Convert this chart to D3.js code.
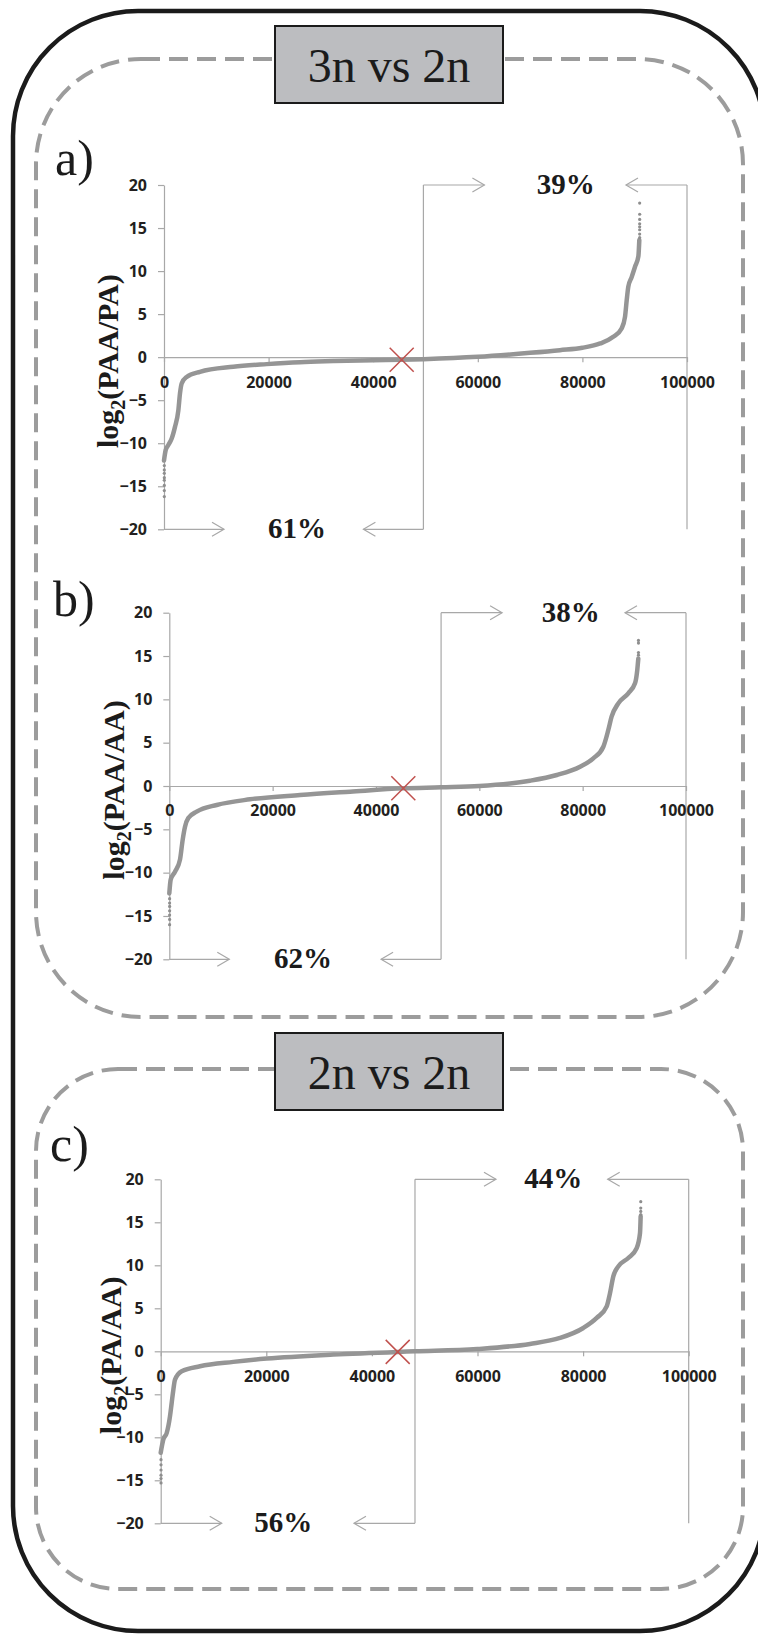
<!DOCTYPE html>
<html>
<head>
<meta charset="utf-8">
<script src="https://cdnjs.cloudflare.com/ajax/libs/d3/7.8.5/d3.min.js"></script>
<style>
body { margin: 0; background: #fff; }
svg { display: block; }
</style>
</head>
<body>
<svg id="chart"></svg>
<script>
const xTicks = [0, 20000, 40000, 60000, 80000, 100000]
const yTicks = [-20, -15, -10, -5, 0, 5, 10, 15, 20]

const groupTitles = ['3n vs 2n', '2n vs 2n']
const panelLetters = ['a)', 'b)', 'c)']
const yTitleRatios = ['(PAA/PA)', '(PAA/AA)', '(PA/AA)']

// percentage of genes above / below the split
const pctAbove = [39, 38, 44]
const pctBelow = [61, 62, 56]
const splitX = [49600, 52600, 48160]
const crossMarks = [[45450, -0.31], [45290, -0.27], [44890, -0.07]]

// sorted log2 ratios as [rank, value]
const curveA = [[0,-12.0],[320,-10.8],[830,-10.2],[1470,-9.46],[2100,-8.1],[2740,-6.2],[3060,-4.2],[3380,-3.06],[4330,-2.3],[6880,-1.7],[13250,-1.12],[19630,-0.81],[26000,-0.58],[32400,-0.46],[40000,-0.35],[45400,-0.3],[49600,-0.23],[60000,0.04],[70000,0.5],[75700,0.81],[80000,1.09],[83400,1.59],[85900,2.36],[87500,3.33],[88150,4.69],[88470,6.6],[88780,8.2],[89420,9.3],[90060,10.5],[90700,11.7],[90880,13.6]]
const curveB = [[0,-12.4],[270,-10.8],[1100,-9.9],[2070,-8.5],[2590,-6.2],[3040,-4.7],[3680,-3.7],[5300,-2.96],[9170,-2.19],[15620,-1.54],[25300,-1.04],[35000,-0.65],[45300,-0.27],[52600,-0.15],[60000,0],[69800,0.61],[75000,1.27],[79500,2.23],[82060,3.19],[84000,4.53],[84960,6.46],[85600,8.0],[86900,9.54],[88830,10.7],[90130,11.85],[90570,13.4],[90770,14.7]]
const curveC = [[0,-11.8],[500,-10.25],[1140,-9.5],[1760,-7.55],[2080,-6.0],[2400,-4.45],[2710,-3.29],[3980,-2.32],[7440,-1.74],[13750,-1.23],[20080,-0.85],[32690,-0.38],[44900,-0.07],[48160,0],[59960,0.27],[69940,0.86],[75630,1.55],[80040,2.71],[82580,3.88],[84470,5.23],[85100,6.78],[85720,8.71],[86670,9.87],[88560,10.85],[90150,12.0],[90780,13.75],[90900,15.7]]

// isolated extreme points
const dotsA = [[60,-12.6],[60,-13.1],[60,-13.5],[60,-14.0],[60,-14.3],[60,-14.9],[60,-15.5],[60,-16.2],[90950,13.9],[90950,14.3],[90950,14.8],[90950,15.15],[90950,15.5],[90950,16.0],[90950,16.6],[90950,17.9]]
const dotsB = [[60,-13.0],[60,-13.5],[60,-13.9],[60,-14.4],[60,-14.9],[60,-15.4],[60,-16.0],[90800,15.1],[90800,15.4],[90800,16.5],[90800,16.8]]
const dotsC = [[60,-12.6],[60,-13.2],[60,-13.8],[60,-14.4],[60,-14.8],[60,-15.3],[90920,15.9],[90920,16.26],[90920,16.65],[90920,17.4]]

const curves = [curveA, curveB, curveC]
const dots = [dotsA, dotsB, dotsC]

let svgWidth = 758
let svgHeight = 1636

const panels = [
    {left:164, right:687, top:185, bottom:529.3, titleOff:46, letterX:55, letterY:175, topArrow:61, botArrow:60, topTextX:76800, botTextX:25430},
    {left:169.3, right:686, top:612.7, bottom:959.3, titleOff:45, letterX:53, letterY:616, topArrow:61, botArrow:60, topTextX:77690, botTextX:25880},
    {left:160.7, right:688.7, top:1179.3, bottom:1523.3, titleOff:40, letterX:50, letterY:1161, topArrow:81, botArrow:61, topTextX:74360, botTextX:23220}
]

const svg = d3.select('#chart')
    .attr('width', svgWidth)
    .attr('height', svgHeight)

const grey = '#a8a8a8'

const drawFrames = () => {
    svg.append('rect')
        .attr('x', 13).attr('y', 11)
        .attr('width', 752).attr('height', 1620)
        .attr('rx', 125).attr('ry', 125)
        .attr('fill', 'none')
        .attr('stroke', '#1b1b1b')
        .attr('stroke-width', 4.5)

    const boxes = [
        {x:36, y:59, w:707, h:958, r:105, title:groupTitles[0], ty:26},
        {x:36, y:1069, w:707, h:520, r:82, title:groupTitles[1], ty:1033}
    ]
    boxes.forEach(b => {
        svg.append('rect')
            .attr('x', b.x).attr('y', b.y)
            .attr('width', b.w).attr('height', b.h)
            .attr('rx', b.r).attr('ry', b.r)
            .attr('fill', 'none')
            .attr('stroke', '#9c9c9c')
            .attr('stroke-width', 4)
            .attr('stroke-dasharray', '19 9')

        svg.append('rect')
            .attr('x', 275).attr('y', b.ty)
            .attr('width', 228).attr('height', 77)
            .attr('fill', '#bcbdc0')
            .attr('stroke', '#1b1b1b')
            .attr('stroke-width', 2)

        svg.append('text')
            .attr('x', 389).attr('y', b.ty + 56)
            .attr('text-anchor', 'middle')
            .attr('font-family', 'Liberation Serif, serif')
            .attr('font-size', 48)
            .attr('fill', '#1b1b1b')
            .text(b.title)
    })
}

const chevron = (g, tipX, y, dir) => {
    g.append('path')
        .attr('d', `M${tipX - dir * 12},${y - 7}L${tipX},${y}L${tipX - dir * 12},${y + 7}`)
        .attr('fill', 'none')
        .attr('stroke', grey)
        .attr('stroke-width', 1.2)
}

const drawPanel = (i) => {
    const p = panels[i]
    const g = svg.append('g')

    const xScale = d3.scaleLinear().domain([0, 100000]).range([p.left, p.right])
    const yScale = d3.scaleLinear().domain([-20, 20]).range([p.bottom, p.top])

    // brackets with arrows
    const xs = xScale(splitX[i])
    const xR = xScale(100000)
    const x0 = xScale(0)
    const yT = yScale(20)
    const yB = yScale(-20)
    const seg = (x1, y1, x2, y2) => g.append('line')
        .attr('x1', x1).attr('y1', y1).attr('x2', x2).attr('y2', y2)
        .attr('stroke', grey).attr('stroke-width', 1.2)

    seg(xs, yT, xs, yB)
    seg(xR, yT, xR, yB)
    seg(xs, yT, xs + p.topArrow, yT)
    chevron(g, xs + p.topArrow, yT, 1)
    seg(xR - p.topArrow, yT, xR, yT)
    chevron(g, xR - p.topArrow, yT, -1)
    seg(x0, yB, x0 + p.botArrow, yB)
    chevron(g, x0 + p.botArrow, yB, 1)
    seg(xs - p.botArrow, yB, xs, yB)
    chevron(g, xs - p.botArrow, yB, -1)

    // axes
    let yAxis = d3.axisLeft(yScale)
        .tickValues(yTicks)
        .tickSize(6)
        .tickSizeOuter(0)
        .tickPadding(11)
    const ya = g.append('g')
        .attr('transform', 'translate(' + x0 + ',0)')
        .call(yAxis)

    let xAxis = d3.axisBottom(xScale)
        .tickValues(xTicks)
        .tickFormat(d3.format('d'))
        .tickSize(5)
        .tickSizeOuter(0)
        .tickPadding(14)
    const xa = g.append('g')
        .attr('transform', 'translate(0,' + yScale(0) + ')')
        .call(xAxis)

    ;[ya, xa].forEach(a => {
        a.selectAll('path, line').attr('stroke', grey).attr('stroke-width', 1.2)
        a.selectAll('text')
            .attr('font-family', 'Open Sans, sans-serif')
            .attr('font-weight', 700)
            .attr('font-size', 16)
            .attr('fill', '#231f20')
    })

    // data curve
    const line = d3.line()
        .x(d => xScale(d[0]))
        .y(d => yScale(d[1]))
        .curve(d3.curveMonotoneX)

    g.append('path')
        .datum(curves[i])
        .attr('d', line)
        .attr('fill', 'none')
        .attr('stroke', '#959595')
        .attr('stroke-width', 4.5)
        .attr('stroke-linecap', 'round')
        .attr('stroke-linejoin', 'round')

    g.selectAll('circle.pt')
        .data(dots[i])
        .enter()
        .append('circle')
        .attr('class', 'pt')
        .attr('cx', d => xScale(d[0]))
        .attr('cy', d => yScale(d[1]))
        .attr('r', 1.6)
        .attr('fill', '#8e8e8e')

    // red cross at the midpoint
    const cx = xScale(crossMarks[i][0])
    const cy = yScale(crossMarks[i][1])
    g.append('path')
        .attr('d', `M${cx - 12},${cy - 12}L${cx + 12},${cy + 12}M${cx - 12},${cy + 12}L${cx + 12},${cy - 12}`)
        .attr('stroke', '#c0504d')
        .attr('stroke-width', 1.5)

    // percentages
    const pct = (xv, yv, val) => g.append('text')
        .attr('x', xScale(xv))
        .attr('y', yScale(yv) + 9)
        .attr('text-anchor', 'middle')
        .attr('font-family', 'Liberation Serif, serif')
        .attr('font-weight', 700)
        .attr('font-size', 29)
        .attr('fill', '#1b1b1b')
        .text(val + '%')
    pct(p.topTextX, 20, pctAbove[i])
    pct(p.botTextX, -20, pctBelow[i])

    // y title
    const title = g.append('text')
        .attr('transform', 'translate(' + (x0 - p.titleOff) + ',' + (yScale(0) + 4) + ') rotate(-90)')
        .attr('text-anchor', 'middle')
        .attr('font-family', 'Liberation Serif, serif')
        .attr('font-weight', 700)
        .attr('font-size', 30)
        .attr('fill', '#1b1b1b')
    title.append('tspan').text('log')
    title.append('tspan').attr('font-size', 20).attr('dy', 7).text('2')
    title.append('tspan').attr('dy', -7).text(yTitleRatios[i])

    // panel letter
    svg.append('text')
        .attr('x', p.letterX)
        .attr('y', p.letterY)
        .attr('font-family', 'Liberation Serif, serif')
        .attr('font-size', 50)
        .attr('fill', '#1b1b1b')
        .text(panelLetters[i])
}

drawFrames()
panels.forEach((p, i) => drawPanel(i))
</script>
</body>
</html>
